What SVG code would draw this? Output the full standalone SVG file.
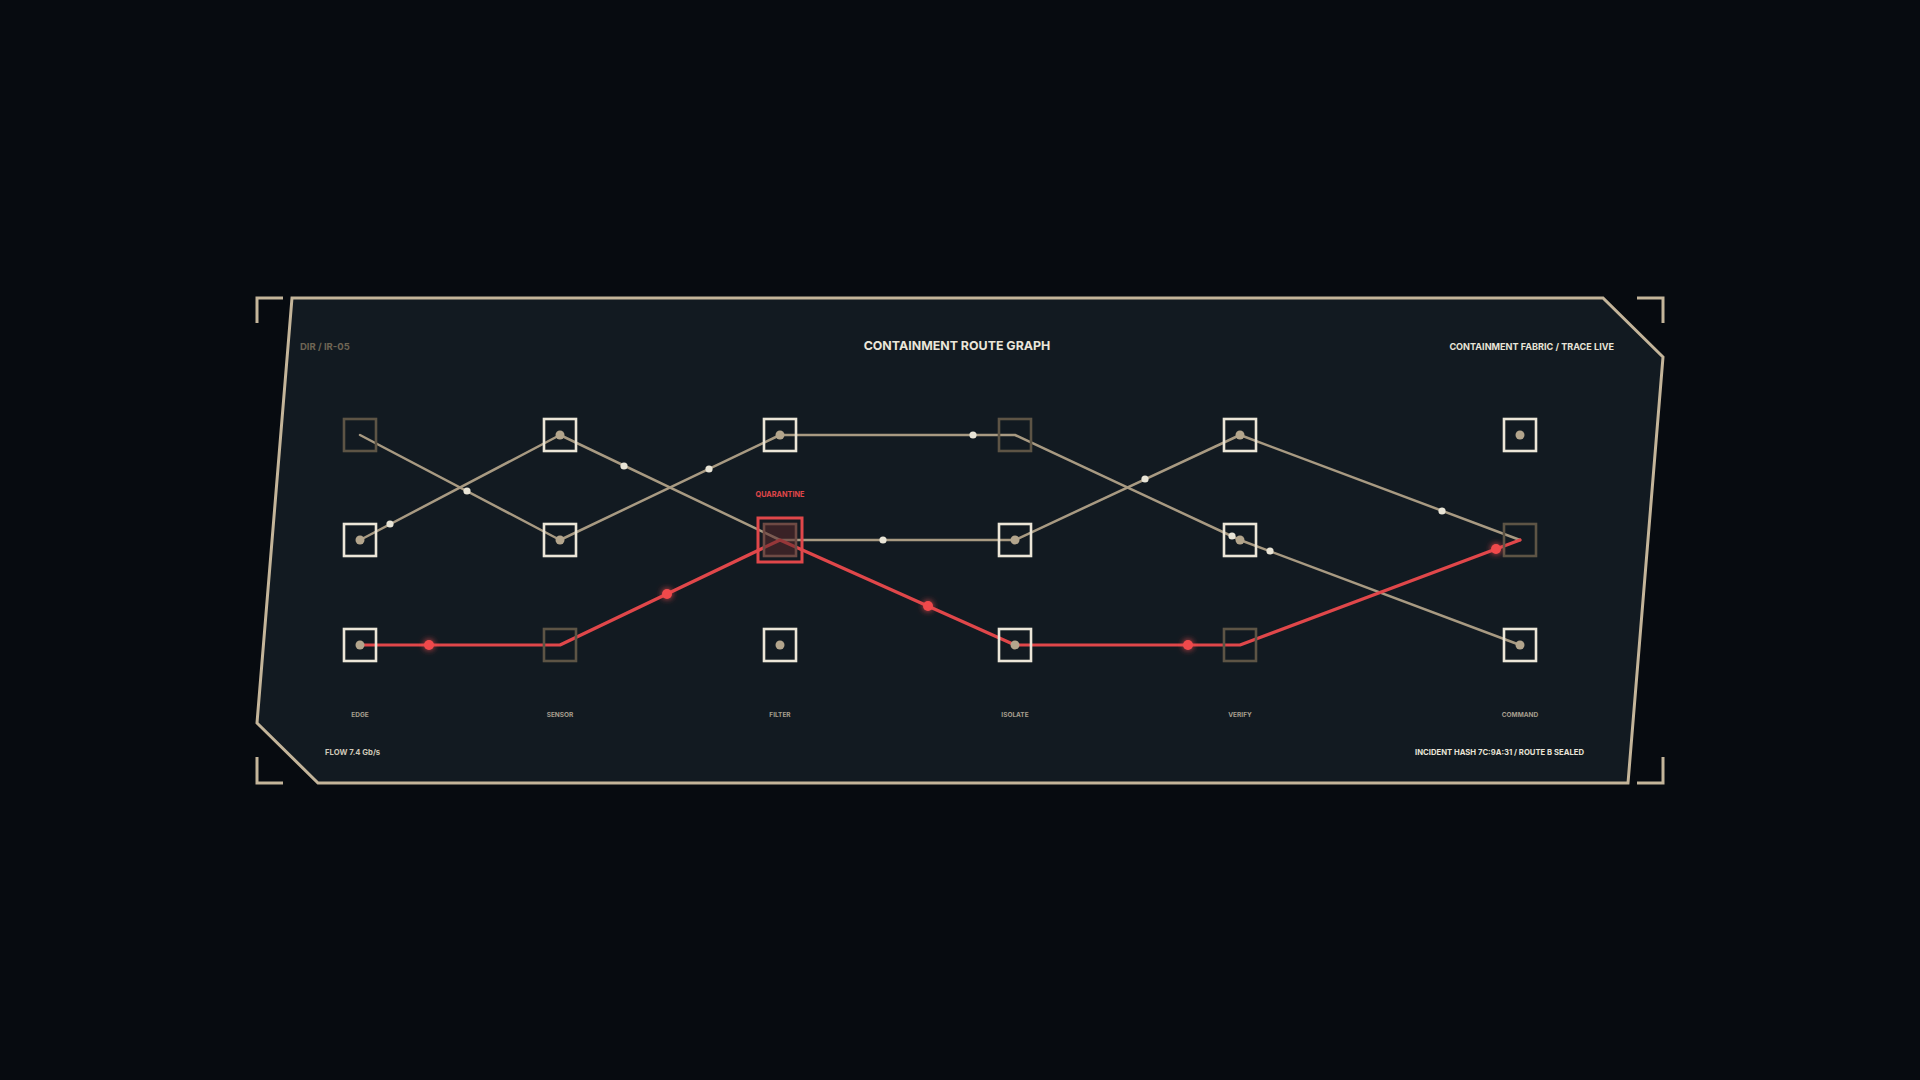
<svg xmlns="http://www.w3.org/2000/svg" width="1920" height="1080" viewBox="0 0 1920 1080">
<defs>
<style>
.bg{fill:#070b10}
.panel{fill:#121a21;stroke:#c4b59a;stroke-width:3;stroke-linejoin:miter}
.bracket{fill:none;stroke:#c4b59a;stroke-width:3}
.edge{fill:none;stroke:#a89a82;stroke-width:2.5;stroke-linecap:round;stroke-linejoin:round}
.hot{fill:none;stroke:#e0474a;stroke-width:3.2;stroke-linecap:round;stroke-linejoin:round}
.sq{fill:none;stroke:#ece6d8;stroke-width:2.6}
.sq-dim{fill:none;stroke:#5d5445;stroke-width:2.6}
.core{fill:#b3a58c}
.pk{fill:#e8e4d6}
.rk{fill:#f04a4c}
.t{font-family:Inter,"Liberation Sans",sans-serif;font-weight:700}
.lbl{font-family:Inter,"Liberation Sans",sans-serif;font-weight:700;font-size:6.5px;fill:#a69e8e;text-anchor:middle}
</style>
<filter id="glow" x="-50%" y="-50%" width="200%" height="200%">
<feGaussianBlur stdDeviation="3" result="b"/>
<feMerge><feMergeNode in="b"/><feMergeNode in="SourceGraphic"/></feMerge>
</filter>
<filter id="sglow" x="-400%" y="-10%" width="900%" height="120%">
<feGaussianBlur stdDeviation="3.5" result="b"/>
<feMerge><feMergeNode in="b"/><feMergeNode in="SourceGraphic"/></feMerge>
</filter>
</defs>
<rect class="bg" x="0" y="0" width="1920" height="1080"/>
<g id="frame">
<polygon class="panel" points="292,298 1603,298 1663,357 1628,783 318,783 257,723"/>
<polyline class="bracket" points="257,323 257,298 283,298"/>
<polyline class="bracket" points="1637,298 1663,298 1663,323"/>
<polyline class="bracket" points="257,757 257,783 283,783"/>
<polyline class="bracket" points="1637,783 1663,783 1663,757"/>
</g>
<g id="texts">
<text class="t" x="300" y="350" font-size="9.5" fill="#6e6554">DIR / IR-05</text>
<text class="t" x="957" y="350" font-size="12.4" fill="#ebe6da" text-anchor="middle" font-weight="800">CONTAINMENT ROUTE GRAPH</text>
<text class="t" x="1614" y="350" font-size="9.1" fill="#e8e4d8" text-anchor="end">CONTAINMENT FABRIC / TRACE LIVE</text>
<text class="t" x="325" y="755" font-size="7.7" fill="#cfc8b8">FLOW 7.4 Gb/s</text>
<text class="t" x="1584" y="755" font-size="7.7" fill="#e8e4d8" text-anchor="end">INCIDENT HASH 7C:9A:31 / ROUTE B SEALED</text>
</g>
<g id="connectors">
<polyline class="edge" points="360,435 560,540 780,435 1015,435 1240,540 1520,645"/>
<polyline class="edge" points="360,540 560,435 780,540 1015,540 1240,435 1520,540"/>
<polyline class="hot" points="360,645 560,645 780,540 1015,645 1240,645 1520,540"/>
</g>
<g id="node-edge-1"><rect class="sq-dim" x="344" y="419" width="32" height="32"/></g>
<g id="node-edge-2"><rect class="sq" x="344" y="524" width="32" height="32"/><circle class="core" cx="360" cy="540" r="4.5"/></g>
<g id="node-edge-3"><rect class="sq" x="344" y="629" width="32" height="32"/><circle class="core" cx="360" cy="645" r="4.5"/><text class="lbl" x="360" y="717">EDGE</text></g>
<g id="node-sensor-1"><rect class="sq" x="544" y="419" width="32" height="32"/><circle class="core" cx="560" cy="435" r="4.5"/></g>
<g id="node-sensor-2"><rect class="sq" x="544" y="524" width="32" height="32"/><circle class="core" cx="560" cy="540" r="4.5"/></g>
<g id="node-sensor-3"><rect class="sq-dim" x="544" y="629" width="32" height="32"/><text class="lbl" x="560" y="717">SENSOR</text></g>
<g id="node-filter-1"><rect class="sq" x="764" y="419" width="32" height="32"/><circle class="core" cx="780" cy="435" r="4.5"/></g>
<g id="node-quarantine">
<rect x="758" y="518" width="44" height="44" fill="none" stroke="#e0474a" stroke-width="3"/>
<rect x="764" y="524" width="32" height="32" fill="#5a2a2c" fill-opacity="0.55" stroke="#6e4a44" stroke-width="2.6"/>
<text class="t" x="780" y="497" font-size="7.3" fill="#e0474a" text-anchor="middle">QUARANTINE</text>
</g>
<g id="node-filter-3"><rect class="sq" x="764" y="629" width="32" height="32"/><circle class="core" cx="780" cy="645" r="4.5"/><text class="lbl" x="780" y="717">FILTER</text></g>
<g id="node-isolate-1"><rect class="sq-dim" x="999" y="419" width="32" height="32"/></g>
<g id="node-isolate-2"><rect class="sq" x="999" y="524" width="32" height="32"/><circle class="core" cx="1015" cy="540" r="4.5"/></g>
<g id="node-isolate-3"><rect class="sq" x="999" y="629" width="32" height="32"/><circle class="core" cx="1015" cy="645" r="4.5"/><text class="lbl" x="1015" y="717">ISOLATE</text></g>
<g id="node-verify-1"><rect class="sq" x="1224" y="419" width="32" height="32"/><circle class="core" cx="1240" cy="435" r="4.5"/></g>
<g id="node-verify-2"><rect class="sq" x="1224" y="524" width="32" height="32"/><circle class="core" cx="1240" cy="540" r="4.5"/></g>
<g id="node-verify-3"><rect class="sq-dim" x="1224" y="629" width="32" height="32"/><text class="lbl" x="1240" y="717">VERIFY</text></g>
<g id="node-command-1"><rect class="sq" x="1504" y="419" width="32" height="32"/><circle class="core" cx="1520" cy="435" r="4.5"/></g>
<g id="node-command-2"><rect class="sq-dim" x="1504" y="524" width="32" height="32"/></g>
<g id="node-command-3"><rect class="sq" x="1504" y="629" width="32" height="32"/><circle class="core" cx="1520" cy="645" r="4.5"/><text class="lbl" x="1520" y="717">COMMAND</text></g>
<g id="packets">
<circle class="pk" cx="390" cy="524" r="3.6"/>
<circle class="pk" cx="467" cy="491" r="3.6"/>
<circle class="pk" cx="624" cy="466" r="3.6"/>
<circle class="pk" cx="709" cy="469" r="3.6"/>
<circle class="pk" cx="973" cy="435" r="3.6"/>
<circle class="pk" cx="883" cy="540" r="3.6"/>
<circle class="pk" cx="1145" cy="479" r="3.6"/>
<circle class="pk" cx="1232" cy="536" r="3.6"/>
<circle class="pk" cx="1270" cy="551" r="3.6"/>
<circle class="pk" cx="1442" cy="511" r="3.6"/>
<g filter="url(#glow)">
<circle class="rk" cx="429" cy="645" r="5"/>
<circle class="rk" cx="667" cy="594" r="5"/>
<circle class="rk" cx="928" cy="606" r="5"/>
<circle class="rk" cx="1188" cy="645" r="5"/>
<circle class="rk" cx="1496" cy="549" r="5"/>
</g>
</g>
<g id="scanline">
<line x1="409" y1="407" x2="409" y2="685" stroke="#f4f1e8" stroke-width="3" stroke-linecap="round" filter="url(#sglow)"/>
</g>
</svg>
